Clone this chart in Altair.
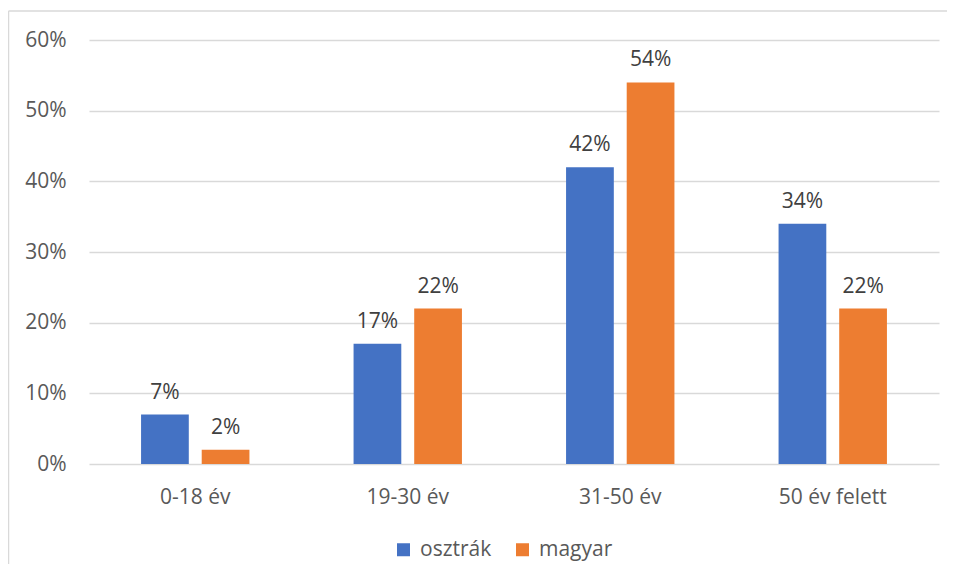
import altair as alt
import pandas as pd

categories = ["0-18 év", "19-30 év", "31-50 év", "50 év felett"]
series = ["osztrák", "magyar"]
osztrak = [0.07, 0.17, 0.42, 0.34]
magyar = [0.02, 0.22, 0.54, 0.22]
colors = ["#4472C4", "#ED7D31"]

rows = []
for i, c in enumerate(categories):
    rows.append({"cat": c, "series": series[0], "value": osztrak[i]})
    rows.append({"cat": c, "series": series[1], "value": magyar[i]})
df = pd.DataFrame(rows)

FONT = "Open Sans"
FS = 21

x = alt.X("cat:N", sort=categories, title=None,
          scale=alt.Scale(paddingInner=0.49, paddingOuter=0.245),
          axis=alt.Axis(labelAngle=0, labelFontSize=FS, labelColor="#595959",
                        labelFont=FONT, ticks=False, domain=False, labelPadding=22))
xo = alt.XOffset("series:N", sort=series,
                 scale=alt.Scale(domain=series, paddingInner=0.213, paddingOuter=0))
y = alt.Y("value:Q", title=None,
          scale=alt.Scale(domain=[0, 0.6], nice=False),
          axis=alt.Axis(format=".0%", values=[0, 0.1, 0.2, 0.3, 0.4, 0.5, 0.6],
                        labelFontSize=FS, labelColor="#595959", labelFont=FONT,
                        ticks=False, domain=False, labelPadding=23,
                        gridColor="#D9D9D9", gridWidth=1.5))

bars = alt.Chart(df).mark_bar().encode(
    x=x, xOffset=xo, y=y,
    color=alt.Color("series:N", sort=series,
                    scale=alt.Scale(domain=series, range=colors),
                    legend=alt.Legend(title=None, orient="none", direction="horizontal",
                                      legendX=304, legendY=499,
                                      labelFontSize=FS, labelFont=FONT,
                                      labelColor="#595959", symbolType="square",
                                      symbolSize=169, symbolStrokeWidth=0,
                                      labelOffset=6, columnPadding=20, padding=0)),
)

labels = alt.Chart(df).mark_text(
    baseline="alphabetic", dy=-16, fontSize=FS, font=FONT, color="#404040"
).encode(x=x, xOffset=xo, y=y, text=alt.Text("value:Q", format=".0%"))

frame_data = pd.DataFrame({"k": [0]})
left_border = alt.Chart(frame_data).mark_rule(color="#D9D9D9", strokeWidth=1.5).encode(
    x=alt.value(-80.5), y=alt.value(-29), y2=alt.value(530))
top_border = alt.Chart(frame_data).mark_rule(color="#D9D9D9", strokeWidth=1.5).encode(
    x=alt.value(-80.5), x2=alt.value(860), y=alt.value(-29))

chart = alt.layer(bars, labels, left_border, top_border).properties(
    width=850, height=424,
    autosize=alt.AutoSizeParams(type="none"),
    padding={"left": 81, "top": 32, "right": 8, "bottom": 100},
    background="white",
).configure_view(stroke=None)

chart.save("out.html", embed_options={"renderer": "svg", "actions": False})
